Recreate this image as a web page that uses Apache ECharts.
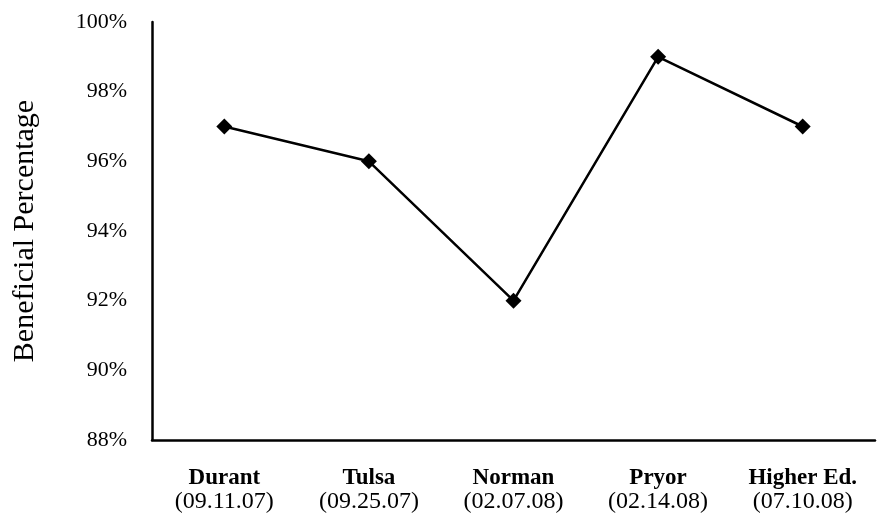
<!DOCTYPE html>
<html><head><meta charset="utf-8">
<script src="https://cdn.jsdelivr.net/npm/echarts@6/dist/echarts.min.js"></script>
<style>html,body{margin:0;padding:0;background:#fff}#c{width:879px;height:524px}</style>
</head><body><div id="c"></div>
<script>
const sites = ["Durant", "Tulsa", "Norman", "Pryor", "Higher Ed."];
const dates = ["(09.11.07)", "(09.25.07)", "(02.07.08)", "(02.14.08)", "(07.10.08)"];
const beneficial = [97, 96, 92, 99, 97];
const yTicks = { min: 88, max: 100, step: 2 };

const chart = echarts.init(document.getElementById('c'));
const font = '"Liberation Serif", "Times New Roman", serif';
chart.setOption({
  animation: false,
  grid: { left: 152, right: 4, top: 22, bottom: 84 },
  xAxis: {
    type: 'category',
    data: sites.map((s, i) => '{b|' + s + '}\n{r|' + dates[i] + '}'),
    axisLine: { lineStyle: { color: '#000', width: 2.5 } },
    axisTick: { show: false },
    axisLabel: {
      margin: 26,
      rich: {
        b: { fontFamily: font, fontSize: 23, fontWeight: 'bold', color: '#000', lineHeight: 24 },
        r: { fontFamily: font, fontSize: 24, color: '#000', lineHeight: 24 }
      }
    }
  },
  yAxis: {
    type: 'value',
    min: yTicks.min, max: yTicks.max, interval: yTicks.step,
    name: 'Beneficial Percentage',
    nameLocation: 'middle',
    nameGap: 112,
    nameTextStyle: { fontFamily: font, fontSize: 30, color: '#000' },
    axisLine: { show: true, lineStyle: { color: '#000', width: 2.5 } },
    axisTick: { show: false },
    splitLine: { show: false },
    axisLabel: {
      margin: 25,
      formatter: v => v + '%',
      fontFamily: font, fontSize: 22, color: '#000'
    }
  },
  series: [{
    type: 'line',
    data: beneficial,
    symbol: 'diamond',
    symbolSize: 16,
    lineStyle: { color: '#000', width: 2.5 },
    itemStyle: { color: '#000' }
  }]
});
</script></body></html>
